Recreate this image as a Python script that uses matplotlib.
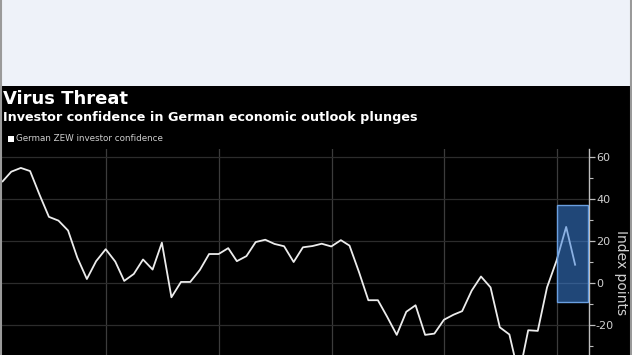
import numpy as np
import pandas as pd
import matplotlib
matplotlib.use('Agg')
import matplotlib.pyplot as plt
import matplotlib.dates as mdates
from matplotlib.patches import Rectangle

# German ZEW investor confidence, monthly, Jan 2015 - Feb 2020
zew = [48.4, 53.0, 54.8, 53.3, 41.9, 31.5, 29.7, 25.0, 12.1, 1.9, 10.4, 16.1,
       10.2, 1.0, 4.3, 11.2, 6.4, 19.2, -6.8, 0.5, 0.5, 6.2, 13.8, 13.8,
       16.6, 10.4, 12.8, 19.5, 20.6, 18.6, 17.5, 10.0, 17.0, 17.6, 18.7, 17.4,
       20.4, 17.8, 5.1, -8.2, -8.2, -16.1, -24.7, -13.7, -10.6, -24.7, -24.1, -17.5,
       -15.1, -13.4, -3.6, 3.1, -2.1, -21.1, -24.5, -44.1, -22.5, -22.8, -2.1, 10.7,
       26.7, 8.7]
dates = pd.date_range('2015-01-31', periods=len(zew), freq='ME')
years = pd.date_range('2016-01-01', '2020-01-01', freq='YS')
yticks = [-20, 0, 20, 40, 60]

fig = plt.figure(figsize=(6.32, 3.55), dpi=100)
fig.patch.set_facecolor('black')

# light band on top
fig.patches.append(Rectangle((0, 1 - 86/355), 1, 86/355, transform=fig.transFigure,
                             facecolor='#eef2f9', edgecolor='none', zorder=0))
fig.lines.append(plt.Line2D([0.0015, 0.0015], [0, 1], transform=fig.transFigure, color='#9a9a9a', lw=1.5))
fig.lines.append(plt.Line2D([0.9985, 0.9985], [0, 1], transform=fig.transFigure, color='#9a9a9a', lw=1.5))

ax = fig.add_axes([2/632, 1 - 396.4/355, 587/632, 247.8/355])
ax.set_facecolor('black')

ax.plot(dates, zew, color='#ececec', lw=1.3, zorder=3)

ax.set_xlim(pd.Timestamp('2015-01-29'), pd.Timestamp('2020-04-14'))
ax.set_ylim(-54, 64)

for d in years:
    ax.axvline(d, color='#3c3c3c', lw=0.9, zorder=1)
for v in yticks:
    ax.axhline(v, color='#2c2c2c', lw=0.9, zorder=1)

# highlight box
x0 = mdates.date2num(pd.Timestamp('2020-01-01'))
x1 = mdates.date2num(pd.Timestamp('2020-04-12'))
ax.add_patch(Rectangle((x0, -9), x1 - x0, 46, facecolor='#3c82dc', alpha=0.55,
                       edgecolor='none', zorder=4))
ax.add_patch(Rectangle((x0, -9), x1 - x0, 46, facecolor='none',
                       edgecolor='#6a9fe0', lw=1.0, zorder=5))

for s in ['top', 'left', 'bottom']:
    ax.spines[s].set_visible(False)
ax.spines['right'].set_color('#bdbdbd')
ax.spines['right'].set_linewidth(1.0)
ax.yaxis.tick_right()
ax.yaxis.set_label_position('right')
ax.set_yticks(yticks)
ax.set_yticklabels([str(v) for v in yticks])
ax.set_yticks(np.arange(-50, 61, 10), minor=True)
ax.tick_params(axis='y', which='major', colors='#bdbdbd', labelcolor='#d0d0d0',
               labelsize=8, length=4, width=0.9, pad=1)
ax.tick_params(axis='y', which='minor', colors='#bdbdbd', length=3, width=0.8)
ax.set_xticks([])
ax.set_ylabel('Index points', rotation=270, color='#d0d0d0', fontsize=10, labelpad=10)

fig.text(3/632, 1 - 99/355, 'Virus Threat', color='white', fontsize=13,
         fontweight='bold', va='center', ha='left')
fig.text(3/632, 1 - 117/355, 'Investor confidence in German economic outlook plunges',
         color='white', fontsize=9.2, fontweight='bold', va='center', ha='left')
fig.patches.append(Rectangle((8/632, 1 - 142/355), 6/632, 6/355, transform=fig.transFigure,
                             facecolor='white', edgecolor='none'))
fig.text(16/632, 1 - 138.5/355, 'German ZEW investor confidence', color='#cfcfcf',
         fontsize=6.3, va='center', ha='left')

fig.savefig('out.png', dpi=100, facecolor=fig.get_facecolor())
